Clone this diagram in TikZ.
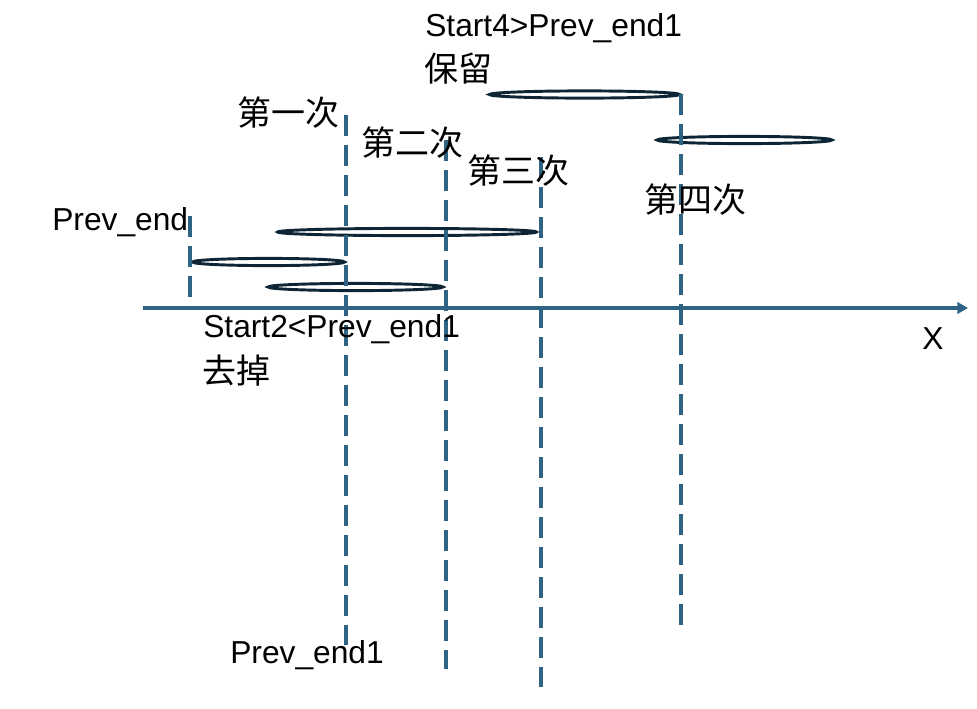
\documentclass[tikz,border=0pt]{standalone}
\usepackage{fontspec}
\setmainfont{Liberation Sans}
\newfontfamily\cjk{Noto Sans CJK SC}
\usetikzlibrary{arrows.meta, shapes.geometric}
\definecolor{cblue}{HTML}{2E6384}
\definecolor{cnavy}{HTML}{0E2535}
\tikzset{
  every picture/.style={x=0.75pt, y=-0.75pt},
  guide/.style={draw=cblue, line width=2.4pt, dash pattern=on 15.5pt off 7pt},
  axis/.style={-{Triangle[length=8pt, width=8.5pt]}, draw=cblue, line width=2.4pt},
  lens/.style={ellipse, draw=cnavy, line width=2.2pt, inner sep=0pt, minimum height=5.4pt},
  lbl/.style={font=\fontsize{23.8}{28}\selectfont, inner sep=0pt, anchor=base west},
  zh/.style={font=\fontsize{25.5}{30}\selectfont\cjk, inner sep=0pt, anchor=west},
}

\begin{document}
\begin{tikzpicture}
  \useasboundingbox (0,0) rectangle (977,708);

  % ---- x axis
  \coordinate (o) at (143,308);
  \coordinate (xend) at (968,308);
  \draw[axis] (o) -- (xend);
  \node[lbl] (xlab) at (922,349) {X};

  % ---- intervals
  \node[lens, minimum width=114pt] (iv1) at (268.5,262) {};
  \node[lens, minimum width=131pt] (iv2) at (355.5,287) {};
  \node[lens, minimum width=194pt] (iv3) at (407,232) {};
  \node[lens, minimum width=142.5pt] (iv4) at (584.5,94.5) {};
  \node[lens, minimum width=131pt] (iv5) at (744.5,140) {};

  % ---- dashed guides
  \coordinate (g1t) at (190,216);  \coordinate (g1b) at (190,305);
  \coordinate (g2t) at (346,115);  \coordinate (g2b) at (346,645);
  \coordinate (g3t) at (446,140);  \coordinate (g3b) at (446,669);
  \coordinate (g4t) at (541,157);  \coordinate (g4b) at (541,687);
  \coordinate (g5t) at (681,94);   \coordinate (g5b) at (681,625);
  \draw[guide] (g1t) -- (g1b);
  \draw[guide] (g2t) -- (g2b);
  \draw[guide] (g3t) -- (g3b);
  \draw[guide] (g4t) -- (g4b);
  \draw[guide] (g5t) -- (g5b);

  % ---- labels
  \node[lbl] (prevend) at (52,230) {Prev\_end};
  \node[lbl] (keepcond) at (425,36) {Start4>Prev\_end1};
  \node[zh] (keep) at (424,68.5) {保留};
  \node[lbl] (dropcond) at (203,337) {Start2<Prev\_end1};
  \node[zh] (drop) at (202,371) {去掉};
  \node[lbl] (prevend1) at (230,663) {Prev\_end1};
  \foreach \k/\x/\y/\t in {1/237/113/第一次, 2/361/143/第二次, 3/467/171/第三次, 4/644/200/第四次}
    { \node[zh] (round\k) at (\x,\y) {\t}; }
\end{tikzpicture}
\end{document}
